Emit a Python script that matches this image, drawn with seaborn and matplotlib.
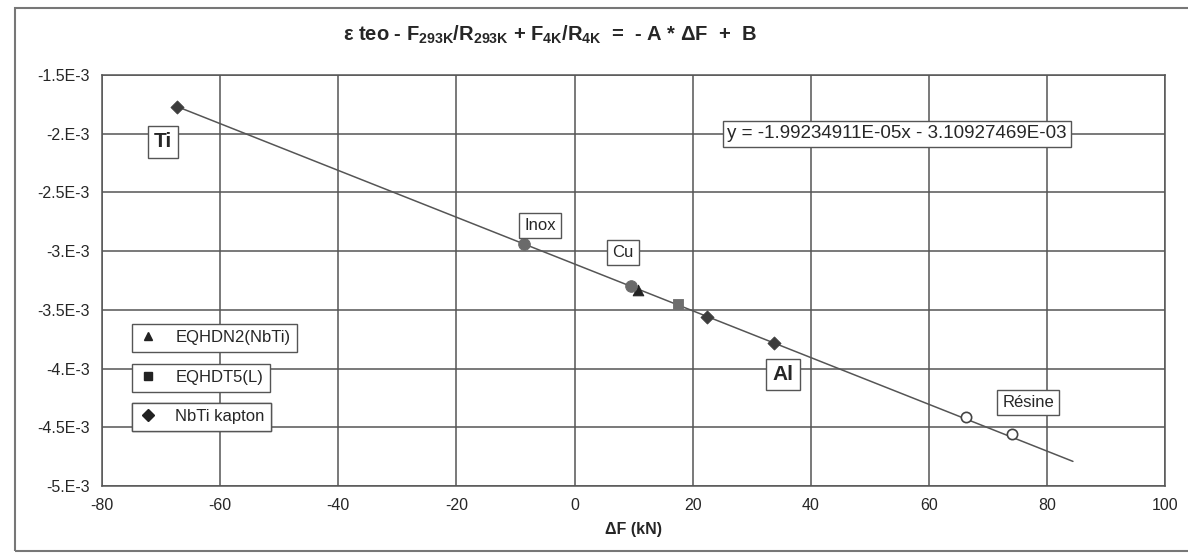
import numpy as np
import pandas as pd
import seaborn as sns
import matplotlib.pyplot as plt
from matplotlib.patches import Rectangle
from matplotlib.lines import Line2D

# data (x in kN, y in strain)
ti_x, ti_y = [-67.3], [-1.773e-3]
eqhdn2_x, eqhdn2_y = [10.8], [-3.33e-3]
eqhdt5_x, eqhdt5_y = [17.5], [-3.45e-3]
kapton_x, kapton_y = [22.5, 33.7], [-3.56e-3, -3.78e-3]
inox_cu_x, inox_cu_y = [-8.6, 9.5], [-2.94e-3, -3.30e-3]
resine_x, resine_y = [66.3, 74.0], [-4.41e-3, -4.56e-3]

# trend line from the equation shown on the chart
A = -1.99234911e-5
B = -3.10927469e-3
trend_x = [-67.3, 84.4]

x_ticks = [-80, -60, -40, -20, 0, 20, 40, 60, 80, 100]
y_ticks = [-5e-3, -4.5e-3, -4e-3, -3.5e-3, -3e-3, -2.5e-3, -2e-3, -1.5e-3]
y_tick_labels = ["-5.E-3", "-4.5E-3", "-4.E-3", "-3.5E-3", "-3.E-3",
                 "-2.5E-3", "-2.E-3", "-1.5E-3"]

sns.set_style("white")
plt.rcParams['font.family'] = ['Liberation Sans', 'DejaVu Sans']
plt.rcParams['mathtext.fontset'] = 'custom'
plt.rcParams['mathtext.bf'] = 'Liberation Sans:bold'
plt.rcParams['mathtext.rm'] = 'Liberation Sans:bold'
plt.rcParams['mathtext.default'] = 'bf'

dark = "#3c3c3c"
grid = "#555555"

fig = plt.figure(figsize=(11.88, 5.56), dpi=100)
ax = fig.add_axes([0.0859, 0.126, 0.8948, 0.739])

trend = pd.DataFrame({"x": trend_x, "y": [A * v + B for v in trend_x]})
sns.lineplot(data=trend, x="x", y="y", ax=ax, color="#555555", lw=1.1, zorder=3)

sns.scatterplot(x=ti_x + kapton_x, y=ti_y + kapton_y, marker="D", s=45,
                color=dark, edgecolor=dark, ax=ax, zorder=4)
sns.scatterplot(x=eqhdn2_x, y=eqhdn2_y, marker="^", s=60, color="#222222",
                edgecolor="#222222", ax=ax, zorder=4)
sns.scatterplot(x=eqhdt5_x, y=eqhdt5_y, marker="s", s=60, color="#6e6e6e",
                edgecolor="#6e6e6e", ax=ax, zorder=4)
sns.scatterplot(x=inox_cu_x, y=inox_cu_y, marker="o", s=70, color="#6a6a6a",
                edgecolor="#6a6a6a", ax=ax, zorder=4)
sns.scatterplot(x=resine_x, y=resine_y, marker="o", s=55, facecolor="white",
                edgecolor="#444444", linewidth=1.2, ax=ax, zorder=4)

ax.set_xlim(-80, 100)
ax.set_ylim(-5e-3, -1.5e-3)
ax.set_xticks(x_ticks)
ax.set_xticklabels([str(v) for v in x_ticks])
ax.set_yticks(y_ticks)
ax.set_yticklabels(y_tick_labels)
ax.tick_params(labelsize=11.5, length=4, color=grid, pad=5)
ax.grid(True, color=grid, lw=1.1)
for sp in ax.spines.values():
    sp.set_color(grid)
    sp.set_linewidth(1.1)
ax.set_xlabel(r"ΔF (kN)", fontsize=11.5, fontweight="bold", labelpad=6)
ax.set_ylabel("")

box = dict(boxstyle="square,pad=0.3", fc="white", ec="#555555", lw=1)
ax.text(-69.7, -2.07e-3, "Ti", fontsize=15, fontweight="bold", ha="center", va="center", bbox=box, zorder=5)
ax.text(35.3, -4.05e-3, "Al", fontsize=15, fontweight="bold", ha="center", va="center", bbox=box, zorder=5)
ax.text(-5.8, -2.78e-3, "Inox", fontsize=12, ha="center", va="center", bbox=box, zorder=5)
ax.text(8.2, -3.01e-3, "Cu", fontsize=12, ha="center", va="center", bbox=box, zorder=5)
ax.text(76.8, -4.29e-3, "Résine", fontsize=12, ha="center", va="center", bbox=box, zorder=5)
ax.text(54.6, -2.0e-3, "y = -1.99234911E-05x - 3.10927469E-03", fontsize=13.5,
        ha="center", va="center", zorder=5,
        bbox=dict(boxstyle="square,pad=0.25", fc="white", ec="#555555", lw=1))

# three separate legend boxes, as in the original
legend_items = [("EQHDN2(NbTi)", "^", 0.326), ("EQHDT5(L)", "s", 0.229), ("NbTi kapton", "D", 0.134)]
for label, mk, ybot in legend_items:
    h = Line2D([], [], marker=mk, color="#222222", ls="", markersize=6)
    leg = ax.legend([h], [label], loc="lower left", bbox_to_anchor=(0.028, ybot),
                    fontsize=12, frameon=True, fancybox=False, edgecolor="#555555",
                    framealpha=1, handlelength=1.2, handletextpad=1.0,
                    borderpad=0.4, borderaxespad=0)
    leg.get_frame().set_linewidth(1)
    leg.set_zorder(6)
    ax.add_artist(leg)

fig.text(0.463, 0.937,
         r"ε teo - F$_{293K}$/R$_{293K}$ + F$_{4K}$/R$_{4K}$  =  - A * ΔF  +  B",
         fontsize=14.5, fontweight="bold", ha="center", va="center")

fig.patches.append(Rectangle((15 / 1188, 1 - 551 / 556), 1.2, (551 - 8) / 556,
                             transform=fig.transFigure, fill=False,
                             ec="#777777", lw=1.5))

fig.savefig("out.png", dpi=100)
